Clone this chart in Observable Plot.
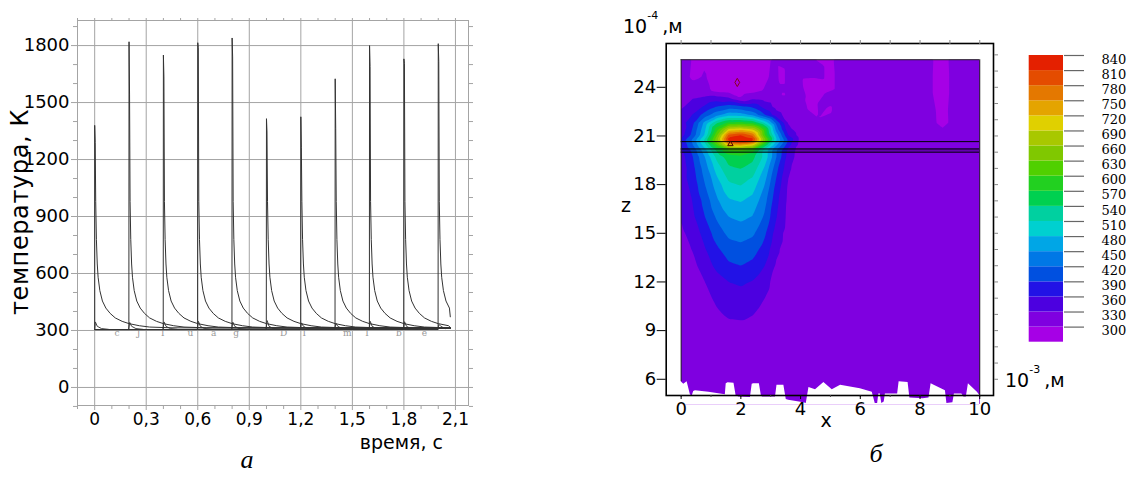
<!DOCTYPE html>
<html><head><meta charset="utf-8">
<script src="https://cdn.jsdelivr.net/npm/d3@7"></script>
<script src="https://cdn.jsdelivr.net/npm/@observablehq/plot@0.6"></script>
<style>
html,body{margin:0;padding:0;background:#fff}
body{width:1138px;height:480px;overflow:hidden;position:relative;font-family:"DejaVu Sans",sans-serif}
.abs{position:absolute}
#overlay{position:absolute;left:0;top:0;pointer-events:none}
</style></head><body>
<div id="left" class="abs" style="left:0;top:0"></div>
<div id="right" class="abs" style="left:600px;top:0"></div>
<div id="bar" class="abs" style="left:1000px;top:0"></div>
<svg id="overlay" width="1138" height="480" font-family="DejaVu Sans">
  <text transform="translate(28,212) rotate(-90)" text-anchor="middle" font-size="24" letter-spacing="0.6">температура, К</text>
  <text x="443" y="449" text-anchor="end" font-size="19">время, с</text>
  <text x="247" y="468" text-anchor="middle" font-size="26" font-style="italic" font-family="Liberation Serif">а</text>
  <text x="623" y="33" font-size="19">10<tspan dy="-14" font-size="11">-4</tspan><tspan dy="14" dx="4">,м</tspan></text>
  <text x="626" y="212" text-anchor="middle" font-size="19">z</text>
  <text x="826" y="427" text-anchor="middle" font-size="19">x</text>
  <text x="1005" y="387" font-size="19">10<tspan dy="-14" font-size="11">-3</tspan><tspan dy="14" dx="4">,м</tspan></text>
  <text x="876" y="462" text-anchor="middle" font-size="26" font-style="italic" font-family="Liberation Serif">б</text>
</svg>
<script>
// ---------- Panel (а): temperature pulses ----------
const pulseTimes = [0, 0.2, 0.4, 0.6, 0.8, 1.0, 1.2, 1.4, 1.6, 1.8, 2.0];
const peakTemps = [1380, 1820, 1750, 1815, 1840, 1415, 1425, 1625, 1800, 1730, 1810];
const secondPeakTemps = [1290, 1540, 1635, 1790, 1740, 1345, 1265, 1365, 1690, 1705, 1715];
const decayOffsets = [0.006, 0.01, 0.015, 0.02, 0.03, 0.045, 0.065, 0.09, 0.12, 0.16, 0.2, 0.26, 0.32, 0.45];
const decayTemps = [980, 780, 650, 580, 510, 455, 418, 390, 366, 348, 336, 325, 318, 314];
const baseTemp = 305;
const endTime = 2.07;
const endTemps = [311, 311, 312, 312, 312, 313, 313, 313, 314, 316, 372];
const bumpTemps = [345, 342, 345, 348, 344, 352, 340, 338, 348, 346, 332];
const bumpTailOffsets = [0.015, 0.04, 0.08];
const bumpTailTemps = [322, 310, 306];
const markerTimes = [0.13, 0.256, 0.396, 0.557, 0.693, 0.823, 1.1, 1.22, 1.47, 1.586, 1.77, 1.92];
const markerLetters = ["c", "J", "I", "u", "a", "g", "D", "I", "m", "I", "b", "e"];
const markerTemp = 284;
const timeTicks = [0, 0.3, 0.6, 0.9, 1.2, 1.5, 1.8, 2.1];
const timeTickLabels = ["0", "0,3", "0,6", "0,9", "1,2", "1,5", "1,8", "2,1"];
const timeMinorTicks = [-0.1, 0.1, 0.2, 0.4, 0.5, 0.7, 0.8, 1.0, 1.1, 1.3, 1.4, 1.6, 1.7, 1.9, 2.0];
const tempTicks = [0, 300, 600, 900, 1200, 1500, 1800];
const tempMinorTicks = [-100, 100, 200, 400, 500, 700, 800, 1000, 1100, 1300, 1400, 1600, 1700, 1900];

// ---------- Panel (б): temperature field ----------
const xCols = [0, 0.4, 0.8, 1.2, 1.6, 2.0, 2.4, 2.8, 3.2, 3.6, 4.0];
const zRows = [25.7, 24.6, 23.8, 23.3, 22.8, 22.3, 21.8, 21.4, 21.05, 20.75, 20.45, 20.15, 19.7, 19.0, 18.0, 17.0, 16.0, 15.0, 14.0, 13.0, 12.0, 11.0, 10.0, 9.0, 8.0, 6.0, 4.4];
const tempGrid = [
  [312, 298, 298, 286, 284, 283, 286, 294, 306, 312, 312],
  [310, 296, 302, 287, 283, 280, 285, 296, 308, 312, 306],
  [318, 312, 308, 290, 287, 286, 290, 302, 312, 312, 308],
  [322, 330, 338, 345, 336, 303, 326, 320, 313, 312, 306],
  [326, 342, 365, 392, 405, 398, 385, 348, 320, 312, 310],
  [338, 362, 405, 440, 468, 465, 442, 392, 340, 318, 312],
  [345, 385, 462, 538, 580, 585, 572, 508, 410, 326, 312],
  [338, 395, 475, 590, 700, 712, 690, 590, 432, 336, 313],
  [345, 402, 485, 625, 790, 812, 770, 600, 462, 356, 316],
  [370, 430, 520, 655, 835, 852, 830, 650, 482, 385, 322],
  [360, 420, 500, 600, 722, 742, 702, 562, 452, 370, 318],
  [355, 400, 470, 548, 600, 606, 585, 500, 420, 350, 315],
  [345, 390, 450, 520, 556, 562, 548, 500, 418, 345, 314],
  [340, 382, 435, 495, 535, 541, 528, 475, 398, 335, 313],
  [342, 372, 420, 465, 505, 512, 495, 450, 380, 325, 313],
  [336, 362, 402, 445, 476, 482, 470, 430, 368, 322, 313],
  [332, 355, 390, 425, 450, 457, 448, 415, 360, 320, 313],
  [324, 342, 372, 405, 428, 433, 425, 395, 345, 317, 313],
  [318, 332, 358, 385, 405, 410, 402, 378, 335, 315, 313],
  [315, 322, 345, 368, 385, 390, 382, 360, 325, 314, 313],
  [313, 316, 330, 348, 360, 364, 358, 340, 318, 313, 313],
  [312, 313, 320, 337, 348, 350, 345, 330, 315, 313, 313],
  [312, 312, 314, 325, 335, 337, 331, 318, 313, 313, 313],
  [312, 312, 312, 315, 318, 318, 316, 313, 313, 313, 313],
  [313, 313, 313, 313, 313, 313, 313, 313, 313, 313, 313],
  [313, 313, 313, 313, 313, 313, 313, 313, 313, 313, 313],
  [313, 313, 313, 313, 313, 313, 313, 313, 313, 313, 313]
];
// cooler patches near the top and their surroundings
const extraX = [3.35, 3.45, 4.2, 4.45, 4.6, 4.9, 4.92, 4.95, 4.65, 4.7, 4.5, 8.7, 8.7, 8.75];
const extraZ = [24.6, 23.6, 24.4, 23.0, 22.1, 25.7, 24.2, 22.7, 24.8, 23.0, 21.3, 25.7, 23.8, 22.0];
const extraT = [288, 294, 288, 288, 300, 290, 288, 296, 314, 314, 314, 288, 286, 292];
const bgX = [5.4, 5.4, 5.4, 5.6, 5.6, 5.6, 5.6, 6.6, 6.6, 6.6, 6.6, 6.6, 6.6, 6.6, 7.5, 7.5, 7.5, 7.5, 7.5, 7.5, 7.5,
             8.15, 8.15, 8.2, 8.75, 9.25, 9.25, 9.3, 8.5, 8.5, 8.5, 8.5, 8.5, 10, 10, 10, 10, 10, 10, 10, 10];
const bgZ = [25.7, 23.5, 21.5, 18, 14, 10, 4.4, 25.7, 23, 20, 16, 12, 8, 4.4, 25.7, 23, 20, 16, 12, 8, 4.4,
             25.7, 23.5, 21.5, 20.6, 25.7, 23.5, 21.5, 18, 14, 10, 6, 4.4, 25.7, 23.5, 21, 18, 14, 10, 6, 4.4];
const bgTemp = 314;
const bandLows = [270, 300, 330, 360, 390, 420, 450, 480, 510, 540, 570, 600, 630, 660, 690, 720, 750, 780, 810];
const bandColors = ["#a600e6", "#7f00e0", "#4c00e0", "#2212e6", "#0050e0", "#0078e6", "#00a6e6", "#00d0d0", "#00d0a0",
                    "#00d050", "#22d020", "#50d000", "#80c800", "#a8c800", "#e0d000", "#e4a400", "#e47800", "#e44c00", "#e42000"];
const levelTicks = [300, 330, 360, 390, 420, 450, 480, 510, 540, 570, 600, 630, 660, 690, 720, 750, 780, 810, 840];
const layerLinesZ = [20.65, 20.2, 20.0];
const fieldTop = 25.7;
const edgeX = [0, 0.09, 0.2, 0.31, 0.37, 0.42, 0.48, 0.93, 1.48, 1.51, 1.57, 1.77, 1.84, 1.93, 2.32, 2.38, 2.43, 2.62, 2.69, 2.73,
               3.16, 3.21, 3.44, 3.52, 3.6, 4.11, 4.19, 4.28, 4.5, 4.78, 5.06, 5.34, 6.0, 6.4, 6.5, 6.58, 6.62, 6.67, 6.72, 6.8,
               6.84, 7.25, 7.3, 7.6, 7.66, 8.1, 8.3, 8.37, 8.85, 8.9, 9.1, 9.15, 9.4, 9.47, 9.55, 9.62, 9.92, 10];
const edgeZ = [5.85, 5.7, 5.84, 5.05, 4.95, 5.25, 5.3, 5.2, 5.05, 5.73, 5.78, 5.75, 5.0, 4.9, 4.88, 5.7, 5.73, 5.73, 4.95, 4.9,
               4.9, 5.63, 5.63, 4.75, 4.7, 4.55, 4.5, 5.5, 5.35, 5.8, 5.35, 5.63, 5.42, 5.2, 4.5, 4.5, 5.1, 5.1, 4.5, 4.6,
               5.1, 5.1, 5.84, 5.8, 4.85, 4.8, 4.85, 5.73, 5.3, 4.5, 4.55, 5.1, 5.1, 4.9, 4.9, 5.73, 5.2, 5.0];
const diamondMarker = [{x: 1.88, z: 24.3}];
const triangleMarker = [{x: 1.65, z: 20.5}];
const zTicks = [6, 9, 12, 15, 18, 21, 24];
const zMinorTicks = [6, 7, 8, 9, 10, 11, 12, 13, 14, 15, 16, 17, 18, 19, 20, 21, 22, 23, 24, 25, 26];
const xTicks = [0, 2, 4, 6, 8, 10];
const xMinorTicks = [0, 1, 2, 3, 4, 5, 6, 7, 8, 9, 10];

// ---------- build left series ----------
const series = [];
pulseTimes.forEach((t0, i) => {
  const id = "p" + i;
  if (t0 > 0) {
    series.push({id, t: 0, T: baseTemp});
    series.push({id, t: t0 - 0.001, T: baseTemp});
  } else {
    series.push({id, t: t0, T: baseTemp});
  }
  series.push({id, t: t0, T: peakTemps[i]});
  series.push({id, t: t0 + 0.003, T: secondPeakTemps[i]});
  decayOffsets.forEach((d, k) => { if (t0 + d < endTime) series.push({id, t: t0 + d, T: decayTemps[k]}); });
  series.push({id, t: endTime, T: endTemps[i]});
});
const bumps = [];
pulseTimes.forEach((t0, i) => {
  const id = "b" + i;
  bumps.push({id, t: Math.max(0, t0 - 0.003), T: baseTemp});
  bumps.push({id, t: t0 + 0.004, T: bumpTemps[i]});
  bumpTailOffsets.forEach((d, k) => { if (t0 + d <= endTime) bumps.push({id, t: t0 + d, T: bumpTailTemps[k]}); });
});
const markers = markerTimes.map((t, i) => ({t, T: markerTemp, s: markerLetters[i]}));

const gridGray = "#a4a4a4";
const leftPlot = Plot.plot({
  width: 480, height: 480,
  marginLeft: 77, marginRight: 12, marginTop: 20, marginBottom: 75,
  x: {domain: [-0.1, 2.176]},
  y: {domain: [-95, 1932]},
  style: {fontFamily: "DejaVu Sans", fontSize: "18px", background: "transparent", overflow: "visible", color: "black"},
  marks: [
    Plot.gridX(timeTicks, {stroke: gridGray, strokeOpacity: 1}),
    Plot.gridY(tempTicks, {stroke: gridGray, strokeOpacity: 1}),
    Plot.frame({stroke: gridGray}),
    Plot.axisY(tempMinorTicks, {anchor: "left", tickSize: 4, tickFormat: () => "", stroke: gridGray, label: null}),
    Plot.axisY(tempMinorTicks.concat(tempTicks), {anchor: "right", tickSize: 4, tickFormat: () => "", stroke: gridGray, label: null}),
    Plot.axisX(timeMinorTicks, {anchor: "bottom", tickSize: 4, tickFormat: () => "", stroke: gridGray, label: null}),
    Plot.axisX(timeMinorTicks.concat(timeTicks), {anchor: "top", tickSize: 3, tickFormat: () => "", stroke: gridGray, label: null}),
    Plot.axisY(tempTicks, {anchor: "left", tickSize: 6, tickPadding: 2, stroke: gridGray, label: null, fontSize: 18,
      tickFormat: (d) => String(d)}),
    Plot.axisX(timeTicks, {anchor: "bottom", tickSize: 5, tickPadding: 2, stroke: gridGray, label: null, fontSize: 17,
      tickFormat: (d) => timeTickLabels[timeTicks.indexOf(d)]}),
    Plot.text(markers, {x: "t", y: "T", text: "s", fill: "#9a9a9a", fontSize: 9, fontFamily: "DejaVu Serif"}),
    Plot.line(bumps, {x: "t", y: "T", z: "id", stroke: "#444", strokeWidth: 1}),
    Plot.line(series, {x: "t", y: "T", z: "id", stroke: "#333", strokeWidth: 1})
  ]
});
document.getElementById("left").appendChild(leftPlot);

// ---------- build field points ----------
const fieldPts = [];
zRows.forEach((z, r) => xCols.forEach((x, c) => fieldPts.push({x, z, T: tempGrid[r][c]})));
extraX.forEach((x, i) => fieldPts.push({x, z: extraZ[i], T: extraT[i]}));
bgX.forEach((x, i) => fieldPts.push({x, z: bgZ[i], T: bgTemp}));
const edge = edgeX.map((x, i) => ({x, z: edgeZ[i]}));

const colorScale = {type: "threshold", domain: bandLows.slice(1), range: bandColors};

const rightPlot = Plot.plot({
  width: 400, height: 480,
  marginLeft: 65.7, marginRight: 7, marginTop: 43, marginBottom: 85,
  x: {domain: [-0.5, 10.46]},
  y: {domain: [5.0, 26.7]},
  color: colorScale,
  style: {fontFamily: "DejaVu Sans", fontSize: "18px", background: "transparent", overflow: "visible", color: "black"},
  marks: [
    Plot.contour(fieldPts, {x: "x", y: "z", fill: "T", interpolate: "barycentric", thresholds: bandLows,
      x1: 0, x2: 10, y1: 4.45, y2: fieldTop, stroke: "none"}),
    Plot.areaY(edge, {x: "x", y1: 4.4, y2: "z", fill: "white", curve: "linear"}),
    Plot.rect([layerLinesZ], {x1: 0, x2: 10, y1: (d) => d[2], y2: (d) => d[1], fill: "black", fillOpacity: 0.22}),
    Plot.ruleY(layerLinesZ, {x1: 0, x2: 10, stroke: "black", strokeWidth: 1}),
    Plot.ruleX([0], {y1: edgeZ[0], y2: fieldTop, stroke: "#222", strokeWidth: 1}),
    Plot.ruleX([10], {y1: edgeZ[edgeZ.length - 1], y2: fieldTop, stroke: "#222", strokeWidth: 1}),
    Plot.ruleY([fieldTop], {x1: 0, x2: 10, stroke: "#222", strokeWidth: 1}),
    Plot.dot(diamondMarker, {x: "x", y: "z", symbol: "diamond", r: 2.5, stroke: "#8a0020", strokeWidth: 1}),
    Plot.dot(triangleMarker, {x: "x", y: "z", symbol: "triangle", r: 2, stroke: "#550000", strokeWidth: 1}),
    Plot.frame({stroke: "black", strokeWidth: 1.6}),
    Plot.axisY(zMinorTicks, {anchor: "right", tickSize: 4, tickFormat: () => "", stroke: "#888", label: null}),
    Plot.axisX(xMinorTicks, {anchor: "top", tickSize: 4, tickFormat: () => "", stroke: "#888", label: null}),
    Plot.axisX(xMinorTicks, {anchor: "bottom", tickSize: 2, tickFormat: () => "", stroke: "#444", label: null}),
    Plot.axisY(zTicks, {anchor: "left", tickSize: 9, tickPadding: 1, stroke: "black", label: null, fontSize: 18}),
    Plot.axisX(xTicks, {anchor: "bottom", tickSize: 4, tickPadding: 3, stroke: "black", label: null, fontSize: 18})
  ]
});
document.getElementById("right").appendChild(rightPlot);

// ---------- colour bar ----------
const barPlot = Plot.plot({
  width: 138, height: 360,
  marginLeft: 28.7, marginRight: 75, marginTop: 55, marginBottom: 18.3,
  x: {domain: [0, 1], axis: null},
  y: {domain: [270, 840], axis: null},
  color: colorScale,
  style: {fontFamily: "DejaVu Serif", fontSize: "13px", background: "transparent", overflow: "visible", color: "black"},
  marks: [
    Plot.rect(bandLows, {x1: 0, x2: 1, y1: (d) => d, y2: (d, i) => (bandLows[i + 1] ?? 840), fill: (d) => d, inset: 0}),
    Plot.axisY(levelTicks, {anchor: "right", tickSize: 20, tickFormat: () => "", stroke: "#666", strokeWidth: 1.2, label: null}),
    Plot.text(levelTicks, {x: 1, y: (d) => d, text: (d) => String(d), dx: 38, dy: 4, textAnchor: "start", fontSize: 13, fill: "black"})
  ]
});
document.getElementById("bar").appendChild(barPlot);
</script>
</body></html>
